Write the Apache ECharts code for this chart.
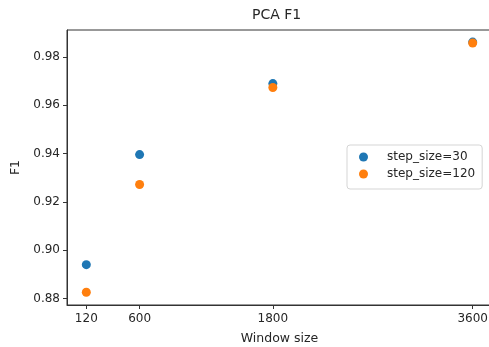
<!DOCTYPE html>
<html>
<head>
<meta charset="utf-8">
<script src="https://cdn.jsdelivr.net/npm/echarts@6/dist/echarts.min.js"></script>
<style>
  html, body { margin: 0; padding: 0; background: #fff; }
  #chart { width: 489px; height: 347px; }
</style>
</head>
<body>
<div id="chart"></div>
<script>
// Window sizes evaluated
const windowSizes = [120, 600, 1800, 3600];
// F1 scores for each step size
const f1Step30 = [0.8940, 0.9396, 0.9690, 0.9862];
const f1Step120 = [0.8826, 0.9272, 0.9674, 0.9858];
const seriesNames = ['step_size=30', 'step_size=120'];
// Axis tick labels
const xTicks = [120, 600, 1800, 3600];
const yTicks = [0.88, 0.90, 0.92, 0.94, 0.96, 0.98];

const textColor = '#262626';
const font = 'DejaVu Sans';

const chart = echarts.init(document.getElementById('chart'), null, { renderer: 'canvas' });

chart.setOption({
  animation: false,
  backgroundColor: '#fff',
  title: {
    text: 'PCA F1',
    left: 252,
    top: 8,
    padding: 0,
    textStyle: { fontFamily: font, fontSize: 14, fontWeight: 'normal', color: textColor }
  },
  legend: {
    orient: 'vertical',
    left: 347,
    top: 145,
    padding: [6, 7, 9, 12],
    itemWidth: 9,
    itemHeight: 9,
    itemGap: 5,
    icon: 'circle',
    backgroundColor: '#fff',
    borderColor: '#d5d5d5',
    borderWidth: 1,
    borderRadius: 3,
    textStyle: { fontFamily: font, fontSize: 12, color: textColor, padding: [0, 0, 0, 14] },
    data: seriesNames
  },
  grid: {
    left: 67,
    top: 30,
    right: -3,
    bottom: 42,
    containLabel: false,
    outerBoundsMode: 'none',
    show: true,
    borderColor: '#333',
    borderWidth: 1
  },
  xAxis: {
    type: 'value',
    min: -54,
    max: 3774,
    name: 'Window size',
    nameLocation: 'middle',
    nameGap: 27,
    nameTextStyle: { fontFamily: font, fontSize: 12.5, color: textColor },
    axisLine: { show: true, onZero: false, lineStyle: { color: '#333', width: 1 } },
    axisTick: { show: true, length: 4, lineStyle: { color: '#333' }, customValues: xTicks },
    axisLabel: {
      fontFamily: font, fontSize: 12, color: textColor, margin: 8,
      customValues: xTicks,
      formatter: v => String(v)
    },
    splitLine: { show: false }
  },
  yAxis: {
    type: 'value',
    min: 0.8773,
    max: 0.9912,
    name: 'F1',
    nameLocation: 'middle',
    nameGap: 44,
    nameRotate: 90,
    nameTextStyle: { fontFamily: font, fontSize: 12.5, color: textColor },
    axisLine: { show: true, onZero: false, lineStyle: { color: '#333', width: 1 } },
    axisTick: { show: true, length: 4, lineStyle: { color: '#333' }, customValues: yTicks },
    axisLabel: {
      fontFamily: font, fontSize: 12, color: textColor, margin: 7,
      customValues: yTicks,
      formatter: v => v.toFixed(2)
    },
    splitLine: { show: false }
  },
  series: [
    {
      name: seriesNames[0],
      type: 'scatter',
      symbol: 'circle',
      symbolSize: 9,
      itemStyle: { color: '#1f77b4', opacity: 1 },
      data: windowSizes.map((w, i) => [w, f1Step30[i]])
    },
    {
      name: seriesNames[1],
      type: 'scatter',
      symbol: 'circle',
      symbolSize: 9,
      itemStyle: { color: '#ff7f0e', opacity: 1 },
      data: windowSizes.map((w, i) => [w, f1Step120[i]])
    }
  ]
});
</script>
</body>
</html>
